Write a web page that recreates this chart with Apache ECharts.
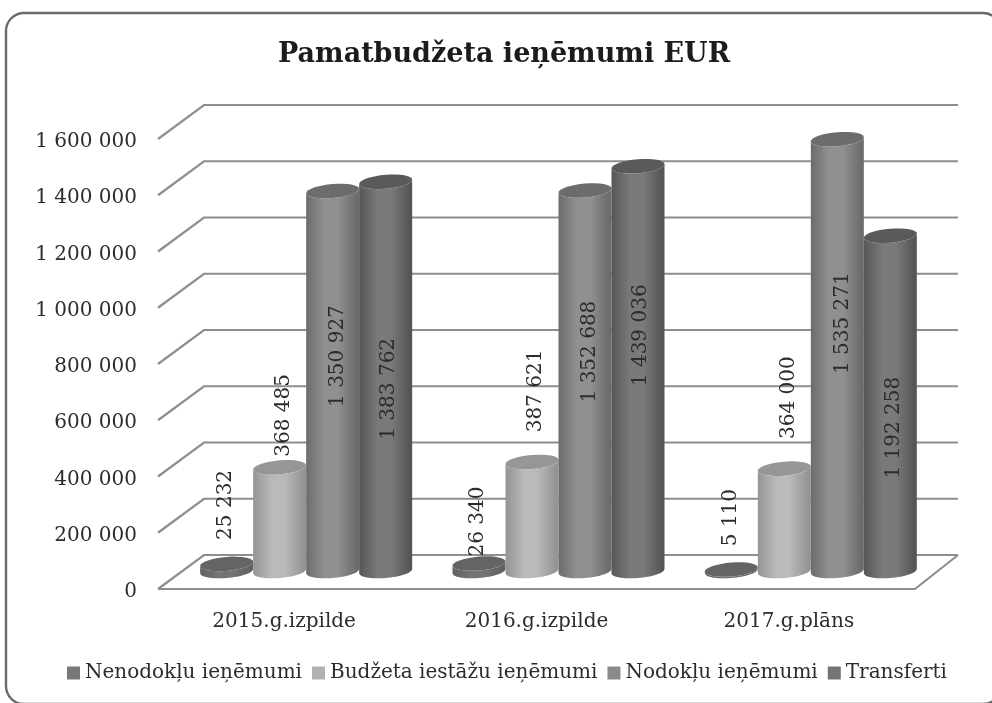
<!DOCTYPE html>
<html><head><meta charset="utf-8">
<style>html,body{margin:0;padding:0;background:#fff}#c{width:992px;height:703px;filter:blur(0.6px)}</style>
<script src="https://cdn.jsdelivr.net/npm/echarts@6/dist/echarts.min.js"></script>
</head><body><div id="c"></div>
<script>
const categories = ['2015.g.izpilde','2016.g.izpilde','2017.g.plāns'];
const nenodokli = [25232, 26340, 5110];
const budzeta = [368485, 387621, 364000];
const nodokli = [1350927, 1352688, 1535271];
const transferti = [1383762, 1439036, 1192258];
const seriesNames = ['Nenodokļu ieņēmumi','Budžeta iestāžu ieņēmumi','Nodokļu ieņēmumi','Transferti'];
const yTicks = [0,200000,400000,600000,800000,1000000,1200000,1400000,1600000];
const labelDrop = [[-59,-42,-52],[-52,-71,-71],[165,161,184],[207,169,192]];
const labelNudge = [-1,4,5,3];
const FONT = '"DejaVu Serif"';
const fmt = v => String(v).replace(/\B(?=(\d{3})+$)/g,' ');
const looks = [
  {legend:'#787878',edge:'#606060',mid:'#747474',top:'#646464'},
  {legend:'#b2b2b2',edge:'#949494',mid:'#bababa',top:'#969696'},
  {legend:'#8a8a8a',edge:'#6c6c6c',mid:'#909090',top:'#6c6c6c'},
  {legend:'#747474',edge:'#565656',mid:'#7a7a7a',top:'#5a5a5a'}
];
const LIFT=3, DX=46, DY=34, BAR=53, RY=7, TILT=0.08, MIDX=22, MIDY=18+LIFT;
function arc(cx,cy,from,to){
  const p=[],n=32,rx=BAR/2;
  for(let i=0;i<=n;i++){const t=from+(to-from)*i/n;const x=rx*Math.cos(t),y=RY*Math.sin(t);p.push([cx+x,cy+y-TILT*x]);}
  return p;
}
function cyl(k,look){
  return function(params,api){
    const p=api.coord([api.value(0),api.value(1)]), z=api.coord([api.value(0),0]);
    const cx=p[0]+MIDX+(k-1.5)*BAR, top=p[1]-MIDY, bot=z[1]-MIDY;
    const body=[].concat(arc(cx,top,Math.PI,0), arc(cx,bot,0,Math.PI));
    const grad={type:'linear',x:0,y:0,x2:1,y2:0,colorStops:[
      {offset:0,color:look.edge},{offset:0.35,color:look.mid},{offset:0.6,color:look.mid},
      {offset:0.95,color:look.edge},{offset:1,color:look.edge}]};
    const ch=[
      {type:'polygon',shape:{points:body},style:{fill:grad}},
      {type:'polygon',shape:{points:arc(cx,top,0,Math.PI*2)},style:{fill:look.top}},
      {type:'text',x:cx+labelNudge[k],y:top+api.value(2),rotation:Math.PI/2,z2:10,
       style:{text:fmt(api.value(1)),font:'20px '+FONT,fill:'#2c2c2c',align:'center',verticalAlign:'middle'}}
    ];
    return {type:'group',children:ch};
  };
}
function wall(params,api){
  const c=params.coordSys, y=api.coord([0,api.value(1)])[1]-LIFT;
  const x0=c.x,x1=c.x+c.width;
  const ch=[{type:'polyline',shape:{points:[[x0,y],[x0+DX,y-DY],[x1+DX-3,y-DY]]},style:{stroke:'#8e8e8e',lineWidth:2.2,fill:null}}];
  if(api.value(1)===0) ch.push({type:'polyline',shape:{points:[[x0,y],[x1,y],[x1+DX-3,y-DY]]},style:{stroke:'#8e8e8e',lineWidth:2.2,fill:null}});
  return {type:'group',children:ch};
}
const valueSets=[nenodokli,budzeta,nodokli,transferti];
const series=[{type:'custom',name:'wall',silent:true,z:1,renderItem:wall,encode:{x:0,y:1},data:yTicks.map(t=>[0,t])}];
valueSets.forEach((vals,k)=>series.push({
  type:'custom',name:seriesNames[k],z:2+k,renderItem:cyl(k,looks[k]),encode:{x:0,y:1},
  itemStyle:{color:looks[k].legend},
  data:vals.map((v,i)=>[i,v,labelDrop[k][i]])
}));
const chart=echarts.init(document.getElementById('c'),null,{renderer:'canvas'});
chart.setOption({
  animation:false,backgroundColor:'#fff',
  title:{text:'Pamatbudžeta ieņēmumi EUR',left:278,top:41,padding:0,textStyle:{fontFamily:FONT,fontSize:27,fontWeight:'bold',color:'#1c1c1c'}},
  grid:{left:158,width:757,top:139+LIFT,height:450,containLabel:false},
  xAxis:{type:'category',data:categories,axisLine:{show:false},axisTick:{show:false},splitLine:{show:false},
    axisLabel:{margin:20,fontFamily:FONT,fontSize:20,color:'#2c2c2c'}},
  yAxis:{type:'value',min:0,max:1600000,interval:200000,axisLine:{show:false},axisTick:{show:false},splitLine:{show:false},
    axisLabel:{margin:21,fontFamily:FONT,fontSize:20,color:'#2c2c2c',formatter:v=>fmt(v)}},
  legend:{data:seriesNames,left:67,top:663,padding:0,itemWidth:13,itemHeight:13,itemGap:10,icon:'rect',
    textStyle:{fontFamily:FONT,fontSize:20,color:'#2c2c2c'},selectedMode:false},
  graphic:[{type:'rect',shape:{x:6,y:13,width:995,height:691,r:18},style:{fill:null,stroke:'#6a6a6a',lineWidth:2.4},silent:true,z:-1}],
  series
});
</script></body></html>
